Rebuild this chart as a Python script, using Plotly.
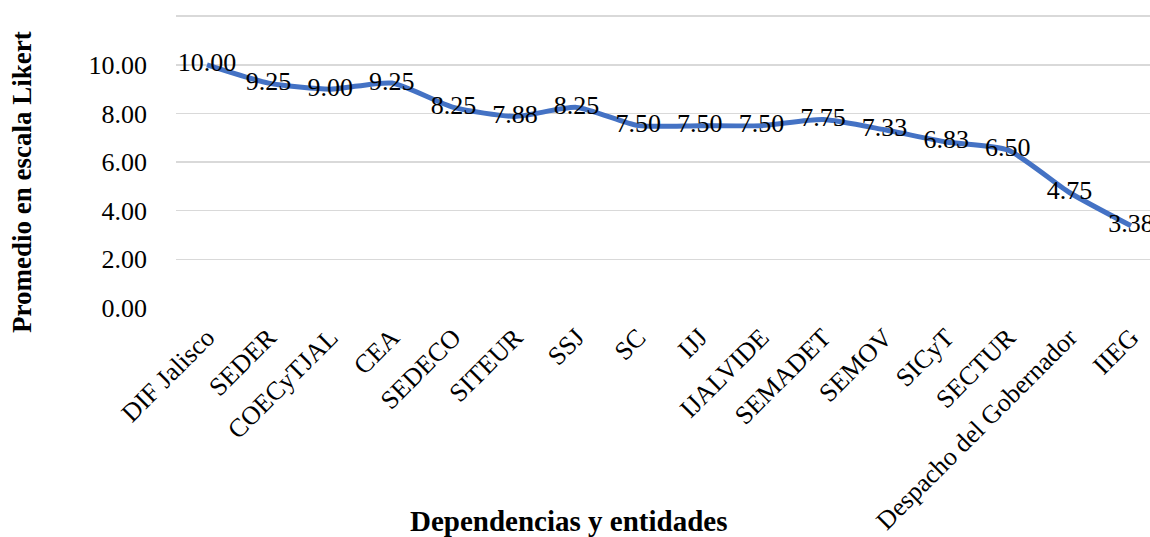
import plotly.graph_objects as go

categories = ["DIF Jalisco", "SEDER", "COECyTJAL", "CEA", "SEDECO", "SITEUR", "SSJ", "SC",
              "IJJ", "IJALVIDE", "SEMADET", "SEMOV", "SICyT", "SECTUR",
              "Despacho del Gobernador", "IIEG"]
values = [10.00, 9.25, 9.00, 9.25, 8.25, 7.88, 8.25, 7.50, 7.50, 7.50, 7.75, 7.33, 6.83, 6.50, 4.75, 3.38]
y_ticks = [0, 2, 4, 6, 8, 10, 12]
y_tick_labels = ["0.00", "2.00", "4.00", "6.00", "8.00", "10.00", ""]

FONT = "Liberation Serif"
W, H = 1150, 537
ML, MT, MR = 176, 15, 0
MB = H - 308
PW = W - ML - MR
PH = H - MT - MB
UNIT = 61.6
x0 = -(207 - 176) / UNIT
x1 = x0 + PW / UNIT


def px_x(px):
    return (px - ML) / PW


def px_y(py):
    return ((H - MB) - py) / PH


fig = go.Figure()
fig.add_trace(go.Scatter(
    x=list(range(len(categories))), y=values,
    mode="lines+text",
    line=dict(color="#4472C4", width=5, shape="spline", smoothing=0.6),
    text=[f"{v:.2f}" for v in values],
    textposition="middle center",
    textfont=dict(family=FONT, size=26, color="#000000"),
    cliponaxis=False,
    hoverinfo="skip",
))

fig.update_layout(
    width=W, height=H,
    margin=dict(l=ML, r=MR, t=MT, b=MB),
    paper_bgcolor="white", plot_bgcolor="white",
    showlegend=False,
    font=dict(family=FONT, size=26, color="#000000"),
    xaxis=dict(
        range=[x0, x1],
        tickmode="array",
        tickvals=list(range(len(categories))),
        ticktext=categories,
        tickangle=-45,
        showgrid=False, zeroline=False, showline=False,
        ticks="", ticklabelstandoff=8,
        automargin=False,
        tickfont=dict(family=FONT, size=26, color="#000000"),
    ),
    yaxis=dict(
        range=[0, 12.05],
        tickmode="array",
        tickvals=y_ticks,
        ticktext=y_tick_labels,
        showgrid=True, gridcolor="#D9D9D9", gridwidth=1.5,
        zeroline=False, showline=False,
        ticks="", ticklabelstandoff=28,
        automargin=False,
        tickfont=dict(family=FONT, size=26, color="#000000"),
    ),
    annotations=[
        dict(text="<b>Dependencias y entidades</b>", xref="paper", yref="paper",
             x=px_x(568), y=px_y(521),
             xanchor="center", yanchor="middle", showarrow=False,
             font=dict(family=FONT, size=29, color="#000000")),
        dict(text="<b>Promedio en escala Likert</b>", xref="paper", yref="paper",
             x=px_x(22), y=px_y(182),
             xanchor="center", yanchor="middle", textangle=-90, showarrow=False,
             font=dict(family=FONT, size=27, color="#000000")),
    ],
)

fig.write_html(
    "out.html",
    config={"displayModeBar": False, "staticPlot": True},
    post_script="document.body.style.margin='0';document.body.style.overflow='hidden';",
)
